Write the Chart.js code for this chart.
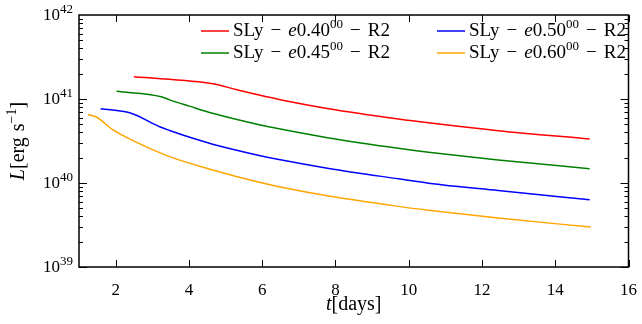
<!DOCTYPE html>
<html>
<head>
<meta charset="utf-8">
<script src="https://cdn.jsdelivr.net/npm/chart.js@4"></script>
<style>
  html, body { margin: 0; padding: 0; background: #fff; }
  #wrap { width: 642px; height: 324px; }
</style>
</head>
<body>
<div id="wrap"><canvas id="lumChart" width="642" height="324"></canvas></div>
<script>
// light curves: t in days, L in erg/s
const tRed    = [2.495, 4.696, 5.285, 5.918, 6.46, 7.82, 9.72, 10.54, 12.44, 14.94];
const lRed    = [1.84e41, 1.51e41, 1.294e41, 1.114e41, 9.89e40, 7.67e40, 5.78e40, 5.20e40, 4.19e40, 3.34e40];

const tGreen  = [2.024, 3.247, 3.473, 4.016, 4.649, 5.918, 6.46, 7.82, 9.72, 10.54, 12.44, 14.94];
const lGreen  = [1.236e41, 1.064e41, 9.77e40, 8.22e40, 6.76e40, 4.94e40, 4.42e40, 3.44e40, 2.59e40, 2.33e40, 1.88e40, 1.48e40];

const tBlue   = [1.59, 2.405, 3.20, 3.473, 4.198, 4.649, 5.918, 6.46, 7.82, 9.72, 10.54, 12.44, 14.94];
const lBlue   = [7.67e40, 6.81e40, 4.68e40, 4.22e40, 3.31e40, 2.90e40, 2.13e40, 1.90e40, 1.49e40, 1.12e40, 9.95e39, 8.13e39, 6.31e39];

const tOrange = [1.245, 1.46, 1.932, 2.476, 3.473, 4.649, 5.918, 6.46, 7.82, 9.72, 10.54, 12.44, 14.97];
const lOrange = [6.50e40, 6.15e40, 4.28e40, 3.19e40, 2.06e40, 1.43e40, 1.02e40, 9.04e39, 7.00e39, 5.27e39, 4.74e39, 3.82e39, 2.99e39];

const eccLabels = ["0.40", "0.50", "0.45", "0.60"];   // legend order: row by row
const xTicks = [2, 4, 6, 8, 10, 12, 14, 16];
const yTicks = [1e39, 1e40, 1e41, 1e42];

const SERIF = '"Liberation Serif", "DejaVu Serif", serif';

function pts(ts, ls) {
  return ts.map((t, i) => ({ x: t, y: ls[i] }));
}

function mkSet(ecc, ts, ls, color) {
  return {
    label: "SLy \u2212 e" + ecc + "\u2070\u2070 \u2212 R2",
    ecc: ecc,
    data: pts(ts, ls),
    borderColor: color,
    backgroundColor: color,
    borderWidth: 1.5,
    pointRadius: 0,
    cubicInterpolationMode: "monotone",
    fill: false
  };
}

// draw text made of pieces with different fonts / raise / gaps
function richWidth(ctx, parts) {
  let w = 0;
  parts.forEach(p => { ctx.font = p.font; w += ctx.measureText(p.text).width + (p.gap || 0); });
  return w;
}
function richText(ctx, parts, x, y) {
  let cx = x;
  parts.forEach(p => {
    ctx.font = p.font;
    ctx.fillText(p.text, cx, y - (p.dy || 0));
    cx += ctx.measureText(p.text).width + (p.gap || 0);
  });
  return cx;
}

/* ===== inward ticks, frame, labels, legend, axis titles ===== */
const decorPlugin = {
  id: "decor",
  afterDraw(chart) {
    const ctx = chart.ctx;
    const { left, right, top, bottom } = chart.chartArea;
    const x = chart.scales.x, y = chart.scales.y;
    ctx.save();
    ctx.strokeStyle = "#000";
    ctx.lineWidth = 1;

    const line = (x1, y1, x2, y2) => {
      ctx.beginPath(); ctx.moveTo(x1, y1); ctx.lineTo(x2, y2); ctx.stroke();
    };

    xTicks.forEach(v => {
      const px = Math.round(x.getPixelForValue(v)) + 0.5;
      line(px, bottom, px, bottom - 7);
      line(px, top, px, top + 7);
    });

    for (let e = 39; e <= 41; e++) {
      for (let m = 1; m <= 9; m++) {
        const py = Math.round(y.getPixelForValue(m * Math.pow(10, e))) + 0.5;
        const len = m === 1 ? 8 : 4;
        line(left, py, left + len, py);
        line(right, py, right - len, py);
      }
    }

    ctx.lineWidth = 1.5;
    ctx.strokeRect(left, top, right - left, bottom - top);

    ctx.fillStyle = "#000";
    ctx.textBaseline = "middle";

    // y tick labels 10^n
    yTicks.forEach(v => {
      const py = y.getPixelForValue(v);
      const parts = [
        { text: "10", font: "17px " + SERIF },
        { text: String(Math.round(Math.log10(v))), font: "13px " + SERIF, dy: 6 }
      ];
      const w = richWidth(ctx, parts);
      richText(ctx, parts, left - 6 - w, py + 1);
    });

    // legend (2 columns)
    const cols = [201, 437];
    const rows = [31, 53];
    chart.data.datasets.forEach((ds, i) => {
      const lx = cols[i % 2], ly = rows[Math.floor(i / 2)];
      ctx.strokeStyle = ds.borderColor;
      ctx.lineWidth = 1.5;
      line(lx, ly, lx + 28, ly);
      richText(ctx, [
        { text: "SLy", font: "19px " + SERIF, gap: 7 },
        { text: "\u2212", font: "19px " + SERIF, gap: 7 },
        { text: "e", font: "italic 19px " + SERIF },
        { text: ds.ecc, font: "19px " + SERIF },
        { text: "00", font: "13px " + SERIF, dy: 6, gap: 7 },
        { text: "\u2212", font: "19px " + SERIF, gap: 7 },
        { text: "R2", font: "19px " + SERIF }
      ], lx + 32, ly);
    });

    // x title
    const xParts = [
      { text: "t", font: "italic 20px " + SERIF },
      { text: "[days]", font: "20px " + SERIF }
    ];
    richText(ctx, xParts, (left + right) / 2 - richWidth(ctx, xParts) / 2, 305);

    // y title, rotated
    ctx.save();
    ctx.translate(19, (top + bottom) / 2);
    ctx.rotate(-Math.PI / 2);
    const yParts = [
      { text: "L", font: "italic 20px " + SERIF },
      { text: "[erg", font: "20px " + SERIF, gap: 6 },
      { text: "s", font: "20px " + SERIF },
      { text: "\u22121", font: "14px " + SERIF, dy: 7 },
      { text: "]", font: "20px " + SERIF }
    ];
    richText(ctx, yParts, -richWidth(ctx, yParts) / 2, 0);
    ctx.restore();

    ctx.restore();
  }
};

new Chart(document.getElementById("lumChart"), {
  type: "line",
  data: {
    datasets: [
      mkSet(eccLabels[0], tRed, lRed, "#ff0000"),
      mkSet(eccLabels[1], tBlue, lBlue, "#0000ff"),
      mkSet(eccLabels[2], tGreen, lGreen, "#008000"),
      mkSet(eccLabels[3], tOrange, lOrange, "#ffa500")
    ]
  },
  options: {
    responsive: false,
    animation: false,
    devicePixelRatio: 1,
    layout: { padding: { left: 0, top: 15, right: 11, bottom: 0 } },
    plugins: {
      legend: { display: false },
      tooltip: { enabled: false }
    },
    scales: {
      x: {
        type: "linear",
        min: 1,
        max: 16,
        grid: { display: false },
        border: { display: false },
        afterBuildTicks: s => { s.ticks = xTicks.map(v => ({ value: v })); },
        afterFit: s => { s.height = 57; },
        ticks: {
          color: "#000",
          padding: 5,
          maxRotation: 0,
          autoSkip: false,
          font: { family: SERIF, size: 17 }
        }
      },
      y: {
        type: "logarithmic",
        min: 1e39,
        max: 1e42,
        grid: { display: false },
        border: { display: false },
        afterBuildTicks: s => { s.ticks = yTicks.map(v => ({ value: v })); },
        afterFit: s => { s.width = 79; },
        ticks: { display: false }
      }
    }
  },
  plugins: [decorPlugin]
});
</script>
</body>
</html>
